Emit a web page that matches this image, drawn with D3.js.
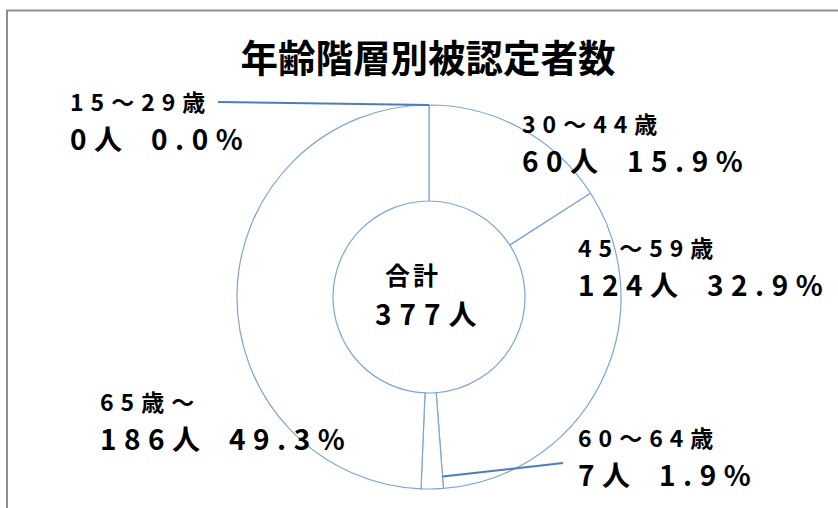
<!DOCTYPE html>
<html>
<head>
<meta charset="utf-8">
<script src="https://cdn.jsdelivr.net/npm/d3@7"></script>
<style>
  body { margin: 0; background: #fff; }
  text { font-family: "Noto Sans CJK JP", sans-serif; fill: #000; }
</style>
</head>
<body>
<div id="chart"></div>
<script>
// data
const categories = ["15～29歳", "30～44歳", "45～59歳", "60～64歳", "65歳～"];
const counts = [0, 60, 124, 7, 186];
const percents = ["0.0%", "15.9%", "32.9%", "1.9%", "49.3%"];
const countLabels = ["0人", "60人", "124人", "7人", "186人"];
const totalLabel = ["合計", "377人"];

// label positions (left x, first baseline) for each category
const labelPos = [[70, 111], [522, 133], [578, 257], [578, 447], [100, 411]];

const width = 838, height = 508;
const cx = 429, cy = 297, outerR = 192, innerR = 96;

const svg = d3.select("#chart").append("svg")
    .attr("width", width)
    .attr("height", height);

svg.append("rect")
    .attr("width", width).attr("height", height)
    .attr("fill", "#fff");

// chart area frame (runs off the right and bottom edge)
svg.append("rect")
    .attr("x", 7).attr("y", 10.5)
    .attr("width", 900).attr("height", 600)
    .attr("fill", "none")
    .attr("stroke", "#8e8e8e")
    .attr("stroke-width", 2);

svg.append("text")
    .attr("x", cx - 1)
    .attr("y", 72)
    .attr("text-anchor", "middle")
    .style("font-size", "37.5px")
    .style("font-weight", "bold")
    .text("年齢階層別被認定者数");

const pie = d3.pie().sort(null).value(d => d);
const arcs = pie(counts);
const arc = d3.arc().innerRadius(innerR).outerRadius(outerR);

const g = svg.append("g").attr("transform", `translate(${cx},${cy})`);

g.selectAll("path")
  .data(arcs)
  .join("path")
    .attr("d", arc)
    .attr("fill", "#fff")
    .attr("stroke", "#7ea3d6")
    .attr("stroke-width", 1.2);

// leader lines for the two small slices
function ringPoint(angle, r) {
  return [cx + r * Math.sin(angle), cy - r * Math.cos(angle)];
}
const leaders = [
  { from: ringPoint(arcs[0].startAngle, outerR), to: [218, 102] },
  { from: ringPoint(arcs[3].startAngle, 180), to: [563, 463] }
];
svg.selectAll(".leader")
  .data(leaders)
  .join("line")
    .attr("class", "leader")
    .attr("x1", d => d.from[0]).attr("y1", d => d.from[1])
    .attr("x2", d => d.to[0]).attr("y2", d => d.to[1])
    .attr("stroke", "#4a7ebb")
    .attr("stroke-width", 2);

// data labels: category on the first line, count and share on the second
const lab = svg.selectAll(".lab")
  .data(categories)
  .join("text")
    .attr("class", "lab")
    .attr("x", (d, i) => labelPos[i][0])
    .attr("y", (d, i) => labelPos[i][1])
    .style("font-weight", "bold");

lab.append("tspan")
    .style("font-size", "23px")
    .style("letter-spacing", "7px")
    .text(d => d);

lab.append("tspan")
    .attr("x", (d, i) => labelPos[i][0])
    .attr("dy", 39)
    .style("font-size", "28px")
    .style("letter-spacing", "7.5px")
    .text((d, i) => countLabels[i] + "\u2002" + percents[i]);

// total in the middle
const total = svg.append("text")
    .attr("x", 385).attr("y", 285)
    .style("font-weight", "bold");
total.append("tspan")
    .style("font-size", "25px")
    .style("letter-spacing", "3px")
    .text(totalLabel[0]);
total.append("tspan")
    .attr("x", 375).attr("dy", 40)
    .style("font-size", "28px")
    .style("letter-spacing", "8px")
    .text(totalLabel[1]);
</script>
</body>
</html>
